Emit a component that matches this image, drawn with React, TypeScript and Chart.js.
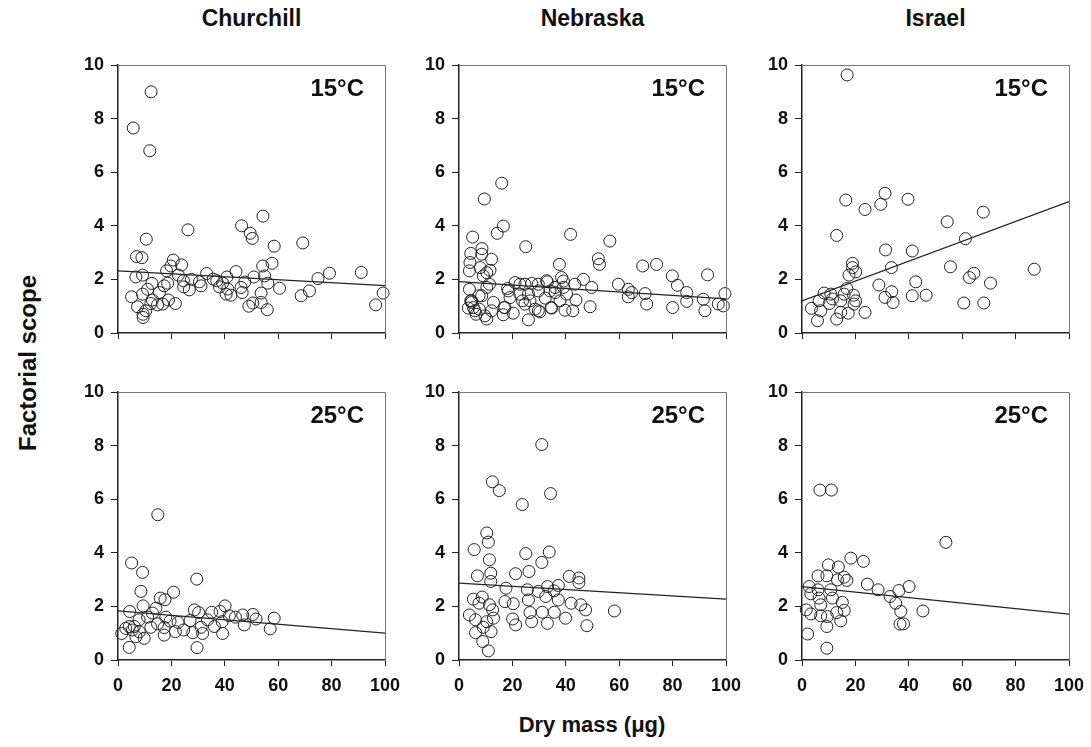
import React, { useEffect, useRef } from "react";
import { Chart, registerables } from "chart.js";
Chart.register(...registerables);

const sites = ["Churchill", "Nebraska", "Israel"];
const temps = ["15°C", "25°C"];
const xTickValues = [0, 20, 40, 60, 80, 100];
const yTickValues = [0, 2, 4, 6, 8, 10];
const fitX = [0, 100];

const churchill15 = [
  [12.4, 9.0], [5.7, 7.65], [11.9, 6.8], [26.2, 3.85], [10.6, 3.5], [46.3, 4.0], [49.5, 3.72], [50.3, 3.53],
  [54.3, 4.36], [69.2, 3.36], [58.5, 3.24], [6.95, 2.85], [8.95, 2.81], [20.7, 2.72], [19.8, 2.5], [23.8, 2.54],
  [18.2, 2.32], [57.7, 2.6], [54.2, 2.5], [44.2, 2.29], [33.2, 2.22], [40.8, 2.09], [54.9, 2.13], [50.9, 2.09],
  [79.2, 2.23], [91.1, 2.26], [74.9, 2.03], [6.7, 2.09], [9.2, 2.16], [12.7, 1.85], [18.6, 1.86], [22.6, 2.16],
  [24.5, 1.95], [24.6, 1.72], [26.7, 1.61], [30.5, 1.91], [31.1, 1.76], [35.7, 2.01], [39.2, 1.86], [38.0, 1.72],
  [41.1, 1.64], [40.5, 1.45], [42.3, 1.41], [46.1, 1.7], [46.5, 1.51], [53.6, 1.49], [53.6, 1.14], [49.0, 1.0],
  [50.5, 1.12], [55.9, 0.87], [56.1, 1.86], [60.5, 1.67], [68.6, 1.39], [71.7, 1.57], [99.3, 1.49], [96.5, 1.05],
  [5.1, 1.35], [7.3, 0.98], [9.2, 1.45], [9.4, 0.58], [9.4, 0.7], [10.4, 0.83], [12.3, 1.1], [12.9, 1.23],
  [14.8, 1.05], [16.7, 1.08], [18.9, 1.23], [21.5, 1.1], [15.5, 1.51], [17.3, 1.76], [11.1, 1.63], [27.5, 2.0],
  [37.0, 1.95], [47.5, 1.9],
];
const churchill15Fit = [2.32, 1.77];

const nebraska15 = [
  [16.0, 5.59], [9.5, 5.0], [16.6, 3.99], [14.3, 3.72], [5.1, 3.58], [41.8, 3.68], [56.5, 3.43], [25.0, 3.22],
  [8.6, 3.15], [4.4, 2.97], [52.2, 2.77], [52.6, 2.56], [68.8, 2.5], [74.0, 2.56], [93.1, 2.17], [37.6, 2.56],
  [79.9, 2.13], [81.8, 1.78], [99.6, 1.47], [59.7, 1.82], [70.3, 1.08], [80.0, 0.95], [92.1, 0.83], [85.3, 1.51],
  [85.3, 1.18], [91.5, 1.26], [97.1, 1.08], [99.0, 1.01], [63.4, 1.63], [64.7, 1.51], [63.4, 1.35], [69.7, 1.47],
  [49.1, 0.98], [49.7, 1.7], [46.6, 2.0], [43.4, 1.82], [43.8, 1.23], [42.6, 0.83], [39.7, 0.85], [39.1, 1.94],
  [39.1, 1.7], [37.8, 1.2], [33.1, 1.91], [34.1, 1.57], [32.3, 1.3], [34.7, 0.93], [29.7, 1.82], [27.2, 1.85],
  [26.0, 1.45], [26.6, 1.2], [26.0, 0.49], [29.7, 0.83], [24.7, 1.82], [21.0, 1.88], [18.5, 1.57], [19.1, 1.32],
  [20.3, 0.74], [16.6, 0.68], [16.9, 0.95], [12.9, 1.14], [12.2, 0.83], [10.4, 0.52], [9.7, 0.64], [7.6, 0.89],
  [6.4, 0.7], [4.7, 1.2], [5.4, 0.95], [3.5, 0.93], [3.9, 1.63], [4.4, 1.2], [8.5, 1.39], [10.4, 1.7],
  [11.4, 1.82], [10.4, 2.25], [9.1, 2.13], [7.9, 2.44], [11.6, 2.34], [12.2, 2.75], [4.1, 2.63], [3.9, 2.32],
  [8.5, 2.94], [22.8, 1.82], [23.8, 1.2], [36.0, 1.7], [38.4, 2.07], [32.8, 1.95], [29.7, 1.57], [24.7, 1.08],
  [28.5, 0.89], [22.8, 1.45], [36.0, 1.51], [40.3, 1.45], [18.2, 1.66], [17.2, 0.95], [6.0, 0.83], [4.7, 1.14],
  [7.5, 1.39], [30.3, 0.79], [34.5, 0.95],
];
const nebraska15Fit = [1.92, 1.27];

const israel15 = [
  [16.9, 9.63], [16.4, 4.96], [23.6, 4.61], [29.5, 4.8], [31.1, 5.21], [39.7, 4.99], [54.4, 4.15], [67.9, 4.51],
  [13.0, 3.64], [61.2, 3.52], [31.3, 3.1], [41.3, 3.06], [33.5, 2.44], [18.9, 2.6], [18.9, 2.44], [20.1, 2.28],
  [17.6, 2.16], [55.6, 2.47], [64.4, 2.23], [62.7, 2.07], [70.6, 1.86], [87.0, 2.38], [42.6, 1.91], [28.8, 1.79],
  [33.6, 1.54], [31.1, 1.33], [34.1, 1.14], [41.3, 1.39], [46.5, 1.41], [60.6, 1.12], [68.1, 1.12], [16.8, 1.66],
  [23.6, 0.77], [3.55, 0.92], [5.8, 0.46], [7.0, 0.83], [10.2, 1.1], [10.8, 1.45], [13.0, 0.52], [14.5, 1.2],
  [14.5, 0.77], [17.3, 0.74], [19.3, 1.41], [19.5, 1.08], [6.4, 1.2], [8.3, 1.49], [11.4, 1.27], [15.8, 1.45],
  [20.1, 1.2],
];
const israel15Fit = [1.2, 4.9];

const churchill25 = [
  [14.9, 5.42], [5.1, 3.62], [9.2, 3.27], [29.5, 3.02], [8.6, 2.56], [20.8, 2.53], [15.8, 2.31], [17.6, 2.25],
  [9.4, 2.02], [14.2, 1.93], [4.4, 1.81], [28.6, 1.87], [30.2, 1.77], [35.1, 1.78], [40.1, 2.02], [38.2, 1.81],
  [41.7, 1.65], [46.7, 1.68], [51.7, 1.53], [58.5, 1.56], [47.3, 1.31], [57.0, 1.16], [39.2, 0.99], [29.6, 0.46],
  [4.2, 0.47], [1.4, 0.99], [2.9, 1.18], [5.4, 1.12], [6.1, 1.25], [9.8, 0.81], [7.9, 1.5], [11.1, 1.6],
  [12.3, 1.22], [14.8, 1.35], [17.3, 1.21], [17.3, 0.93], [17.9, 1.6], [21.5, 1.06], [24.6, 1.12], [27.0, 1.47],
  [28.0, 1.02], [31.1, 1.22], [31.7, 0.99], [36.1, 1.25], [39.0, 1.43], [6.7, 0.87], [4.2, 1.25], [12.9, 1.75],
  [22.5, 1.4], [33.5, 1.5], [44.0, 1.6], [50.5, 1.7], [19.5, 1.45], [8.0, 1.05],
];
const churchill25Fit = [1.83, 1.0];

const nebraska25 = [
  [31.0, 8.04], [12.5, 6.65], [15.1, 6.32], [34.3, 6.21], [23.7, 5.8], [10.4, 4.74], [11.0, 4.4], [5.7, 4.12],
  [11.4, 3.74], [25.0, 3.97], [33.8, 4.03], [31.0, 3.64], [6.9, 3.14], [11.9, 3.24], [11.9, 2.93], [21.2, 3.22],
  [26.2, 3.3], [41.3, 3.12], [44.9, 3.06], [44.9, 2.89], [17.6, 2.68], [25.6, 2.62], [29.7, 2.56], [33.2, 2.74],
  [35.6, 2.58], [5.4, 2.27], [8.7, 2.35], [7.5, 2.12], [11.4, 2.06], [17.2, 2.18], [20.3, 2.1], [26.0, 2.24],
  [32.5, 2.37], [37.2, 2.24], [42.0, 2.12], [45.6, 2.06], [47.4, 1.87], [58.2, 1.83], [3.9, 1.68], [6.2, 1.5],
  [12.6, 1.87], [12.9, 1.56], [20.1, 1.53], [21.2, 1.31], [26.6, 1.77], [27.2, 1.43], [31.2, 1.78], [33.1, 1.37],
  [35.7, 1.78], [39.9, 1.56], [47.9, 1.28], [6.2, 1.02], [9.1, 1.22], [12.0, 1.06], [8.9, 0.69], [11.0, 0.34],
  [10.4, 1.43], [37.2, 2.78],
];
const nebraska25Fit = [2.87, 2.27];

const israel25 = [
  [6.7, 6.34], [11.0, 6.34], [53.9, 4.39], [18.3, 3.8], [23.0, 3.68], [9.9, 3.55], [13.6, 3.47], [15.8, 3.09],
  [6.0, 3.14], [9.3, 3.14], [24.5, 2.83], [28.5, 2.62], [40.1, 2.74], [36.3, 2.59], [33.0, 2.37], [35.1, 2.12],
  [37.0, 1.81], [45.3, 1.83], [36.7, 1.34], [38.0, 1.35], [2.1, 0.97], [9.3, 0.44], [2.7, 2.74], [3.3, 2.47],
  [6.4, 2.31], [11.4, 2.31], [15.1, 2.15], [3.3, 1.72], [7.0, 1.65], [9.5, 1.62], [13.0, 1.77], [15.8, 1.85],
  [14.5, 1.46], [9.3, 1.25], [6.0, 2.62], [10.8, 2.62], [16.8, 2.97], [13.3, 2.99], [7.0, 2.06], [1.6, 1.87],
];
const israel25Fit = [2.74, 1.71];

const panelPoints = [
  [churchill15, nebraska15, israel15],
  [churchill25, nebraska25, israel25],
];
const panelFits = [
  [churchill15Fit, nebraska15Fit, israel15Fit],
  [churchill25Fit, nebraska25Fit, israel25Fit],
];

const FONT = "'Liberation Sans', Arial, Helvetica, sans-serif";
const PLOT_W = 267;
const PLOT_H = 268;
const COL_L = [118, 459, 802];
const ROW_T = [65, 392];
const PAD_L = 52;
const PAD_T = 14;
const PAD_R = 16;
const PAD_B = 42;

function Panel({ row, col }: { row: number; col: number }) {
  const ref = useRef<HTMLCanvasElement | null>(null);
  useEffect(() => {
    if (!ref.current) return;
    const pts = panelPoints[row][col];
    const fit = panelFits[row][col];
    const showX = row === 1;
    const framePlugin = {
      id: "frame" + row + col,
      afterDatasetsDraw(chart: any) {
        const { ctx, chartArea } = chart;
        ctx.save();
        ctx.strokeStyle = "#777";
        ctx.lineWidth = 1;
        ctx.beginPath();
        ctx.moveTo(chartArea.left, chartArea.top + 0.5);
        ctx.lineTo(chartArea.right + 0.5, chartArea.top + 0.5);
        ctx.lineTo(chartArea.right + 0.5, chartArea.bottom);
        ctx.stroke();
        ctx.fillStyle = "#111";
        ctx.font = "bold 24px " + FONT;
        ctx.textAlign = "right";
        ctx.textBaseline = "middle";
        ctx.fillText(temps[row], chartArea.right - 21, chartArea.top + 24);
        ctx.restore();
      },
    };
    const chart = new Chart(ref.current, {
      type: "scatter",
      data: {
        datasets: [
          {
            type: "line",
            data: fitX.map((x, i) => ({ x, y: fit[i] })),
            borderColor: "#222",
            borderWidth: 1.3,
            pointRadius: 0,
            showLine: true,
            fill: false,
          } as any,
          {
            data: pts.map((p) => ({ x: p[0], y: p[1] })),
            pointRadius: 6,
            pointBorderWidth: 1,
            borderColor: "#222",
            backgroundColor: "rgba(255,255,255,0)",
            pointBackgroundColor: "rgba(255,255,255,0)",
            pointBorderColor: "#222",
            clip: false,
          } as any,
        ],
      },
      options: {
        animation: false,
        responsive: false,
        devicePixelRatio: 1,
        layout: { padding: { left: 0, top: PAD_T, right: PAD_R, bottom: 0 } },
        plugins: { legend: { display: false }, tooltip: { enabled: false }, title: { display: false } },
        scales: {
          x: {
            type: "linear",
            min: 0,
            max: 100,
            afterBuildTicks: (s: any) => {
              s.ticks = xTickValues.map((v) => ({ value: v }));
            },
            afterFit: (s: any) => {
              s.height = PAD_B;
              s.paddingLeft = 0;
              s.paddingRight = 0;
            },
            ticks: {
              display: showX,
              color: "#111",
              padding: 9,
              font: { family: FONT, size: 18, weight: "bold" },
            },
            grid: { drawOnChartArea: false, drawTicks: true, tickLength: 6, color: "#222", lineWidth: 1 },
            border: { display: true, color: "#222", width: 1.5 },
          },
          y: {
            type: "linear",
            min: 0,
            max: 10,
            afterBuildTicks: (s: any) => {
              s.ticks = yTickValues.map((v) => ({ value: v }));
            },
            afterFit: (s: any) => {
              s.width = PAD_L;
              s.paddingTop = 0;
              s.paddingBottom = 0;
            },
            ticks: {
              color: "#111",
              padding: 7,
              font: { family: FONT, size: 18, weight: "bold" },
            },
            grid: { drawOnChartArea: false, drawTicks: true, tickLength: 7, color: "#222", lineWidth: 1 },
            border: { display: true, color: "#222", width: 1.5 },
          },
        },
      } as any,
      plugins: [framePlugin],
    });
    return () => chart.destroy();
  }, [row, col]);
  const w = PLOT_W + PAD_L + PAD_R;
  const h = PLOT_H + PAD_T + PAD_B;
  return (
    <canvas
      ref={ref}
      width={w}
      height={h}
      style={{
        position: "absolute",
        left: COL_L[col] - PAD_L,
        top: ROW_T[row] - PAD_T,
        width: w,
        height: h,
      }}
    />
  );
}

export default function App() {
  const textStyle: React.CSSProperties = {
    position: "absolute",
    fontFamily: FONT,
    fontWeight: "bold",
    color: "#111",
    whiteSpace: "nowrap",
  };
  return (
    <div
      style={{
        position: "fixed",
        left: 0,
        top: 0,
        width: 1091,
        height: 747,
        background: "#fff",
        overflow: "hidden",
      }}
    >
      {sites.map((s, i) => (
        <div
          key={s}
          style={{
            ...textStyle,
            fontSize: 23,
            left: COL_L[i] + PLOT_W / 2,
            top: 18,
            transform: "translate(-50%, -50%)",
          }}
        >
          {s}
        </div>
      ))}
      <div
        style={{
          ...textStyle,
          fontSize: 24,
          left: 28,
          top: 363,
          transform: "translate(-50%, -50%) rotate(-90deg)",
        }}
      >
        Factorial scope
      </div>
      <div
        style={{
          ...textStyle,
          fontSize: 22,
          left: 592,
          top: 725,
          transform: "translate(-50%, -50%)",
        }}
      >
        Dry mass (μg)
      </div>
      {[0, 1].map((r) => [0, 1, 2].map((c) => <Panel key={r + "-" + c} row={r} col={c} />))}
    </div>
  );
}
